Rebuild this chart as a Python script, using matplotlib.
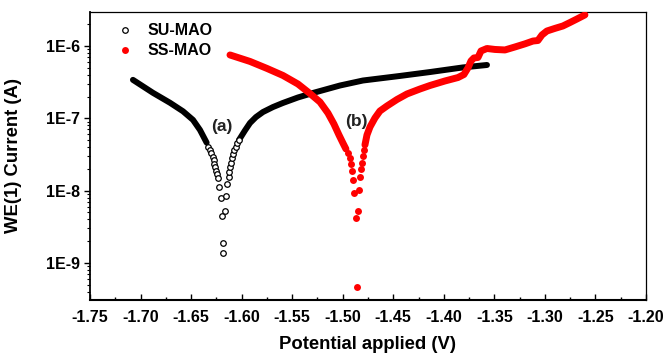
import matplotlib
matplotlib.use("Agg")
import matplotlib.pyplot as plt
from matplotlib.ticker import FixedLocator, FuncFormatter, LogLocator, NullFormatter
import numpy as np

# ---------------- data ----------------
# SU-MAO (open black circles)
su_left_v = [-1.7075, -1.6877, -1.6709, -1.6580, -1.6481, -1.6412, -1.6346]
su_left_i = [3.40e-7, 2.25e-7, 1.64e-7, 1.25e-7, 9.5e-8, 6.9e-8, 4.6e-8]

su_tip_v = [-1.6328, -1.6313, -1.6300, -1.6288, -1.6278, -1.6269, -1.6259, -1.6249,
            -1.6239, -1.6229, -1.6221, -1.6207, -1.6197, -1.6187,
            -1.6184, -1.6165, -1.6155, -1.6142, -1.6128, -1.6120, -1.6112, -1.6105,
            -1.6095, -1.6086, -1.6073, -1.6058, -1.6041, -1.6026]
su_tip_i = [4.07e-8, 3.65e-8, 3.26e-8, 2.92e-8, 2.61e-8, 2.33e-8, 2.09e-8, 1.87e-8,
            1.67e-8, 1.48e-8, 1.11e-8, 7.98e-9, 4.50e-9, 1.37e-9,
            1.90e-9, 5.27e-9, 8.41e-9, 1.22e-8, 1.56e-8, 1.81e-8, 2.09e-8, 2.41e-8,
            2.78e-8, 3.21e-8, 3.65e-8, 4.07e-8, 4.55e-8, 5.01e-8]

su_right_v = [-1.6026, -1.5967, -1.5917, -1.5858, -1.5789, -1.5690, -1.5591, -1.5443,
              -1.5294, -1.5027, -1.4800, -1.4434, -1.4137, -1.3811, -1.3573]
su_right_i = [5.01e-8, 6.78e-8, 8.61e-8, 1.04e-7, 1.22e-7, 1.43e-7, 1.63e-7, 1.94e-7,
              2.24e-7, 2.84e-7, 3.33e-7, 3.85e-7, 4.36e-7, 5.05e-7, 5.46e-7]

# SS-MAO (filled red dots)
ss_left_v = [-1.6115, -1.5917, -1.5749, -1.5591, -1.5443, -1.5324, -1.5225, -1.5146,
             -1.5087, -1.5037, -1.4998, -1.4968]
ss_left_i = [7.51e-7, 6.11e-7, 4.89e-7, 3.91e-7, 2.98e-7, 2.20e-7, 1.68e-7, 1.18e-7,
             8.34e-8, 5.88e-8, 4.55e-8, 3.76e-8]

ss_tip_v = [-1.4948, -1.4928, -1.4916, -1.4905, -1.4896, -1.4886, -1.4872, -1.4862,
            -1.4852, -1.4839, -1.4829, -1.4822, -1.4807, -1.4797, -1.4788]
ss_tip_i = [3.26e-8, 2.80e-8, 2.30e-8, 1.87e-8, 1.40e-8, 9.18e-9, 4.22e-9, 4.69e-10,
            5.22e-9, 1.02e-8, 1.53e-8, 1.97e-8, 2.43e-8, 3.01e-8, 3.65e-8]

ss_right_v = [-1.4780, -1.4760, -1.4730, -1.4681, -1.4632, -1.4562, -1.4463, -1.4364,
              -1.4236, -1.4137, -1.3989, -1.3860, -1.3801, -1.3761, -1.3731, -1.3702,
              -1.3662, -1.3632, -1.3573, -1.3494, -1.3395, -1.3296, -1.3197, -1.3118,
              -1.3069, -1.3029, -1.2980, -1.2901, -1.2822, -1.2752, -1.2683, -1.2604]
ss_right_i = [4.28e-8, 5.88e-8, 7.59e-8, 1.01e-7, 1.26e-7, 1.48e-7, 1.82e-7, 2.17e-7,
              2.54e-7, 2.84e-7, 3.28e-7, 3.66e-7, 4.03e-7, 4.97e-7, 6.21e-7, 6.83e-7,
              6.93e-7, 8.53e-7, 9.23e-7, 8.95e-7, 8.81e-7, 9.69e-7, 1.07e-6, 1.17e-6,
              1.19e-6, 1.42e-6, 1.61e-6, 1.75e-6, 1.89e-6, 2.11e-6, 2.36e-6, 2.69e-6]

x_ticks = [-1.75, -1.70, -1.65, -1.60, -1.55, -1.50, -1.45, -1.40, -1.35, -1.30, -1.25, -1.20]
y_ticks = [1e-9, 1e-8, 1e-7, 1e-6]
series_names = ["SU-MAO", "SS-MAO"]
annotations = [("(a)", -1.6194, 7.8e-8), ("(b)", -1.4864, 9.0e-8)]

# ---------------- plot ----------------
plt.rcParams['font.family'] = ['Liberation Sans', 'DejaVu Sans']
plt.rcParams['font.weight'] = 'bold'

fig = plt.figure(figsize=(6.67, 3.56), dpi=100)
ax = fig.add_axes([0.1349, 0.1573, 0.8336, 0.8090])
ax.set_yscale('log')

black_lw = 4.3
red_lw = 5.0

# SU-MAO
ax.plot(su_left_v, su_left_i, '-', color='black', lw=black_lw, solid_capstyle='round',
        solid_joinstyle='round', zorder=2)
ax.plot(su_right_v, su_right_i, '-', color='black', lw=black_lw, solid_capstyle='round',
        solid_joinstyle='round', zorder=2)
h_su, = ax.plot(su_tip_v, su_tip_i, 'o', ms=4.0, mfc='white', mec='black', mew=0.9,
                ls='none', zorder=3, label=series_names[0])

# SS-MAO
ax.plot(ss_left_v, ss_left_i, '-', color='#ff0000', lw=red_lw, solid_capstyle='round',
        solid_joinstyle='round', zorder=4)
ax.plot(ss_right_v, ss_right_i, '-', color='#ff0000', lw=red_lw, solid_capstyle='round',
        solid_joinstyle='round', zorder=4)
h_ss, = ax.plot(ss_tip_v, ss_tip_i, 'o', ms=5.0, mfc='#ff0000', mec='#ff0000', mew=0,
                ls='none', zorder=5, label=series_names[1])

for txt, xv, yv in annotations:
    ax.text(xv, yv, txt, ha='center', va='center', fontsize=12.5, fontweight='bold',
            color='#222222')

ax.set_xlim(-1.75, -1.20)
ax.set_ylim(3.07e-10, 2.95e-6)

ax.xaxis.set_major_locator(FixedLocator(x_ticks))
ax.xaxis.set_minor_locator(FixedLocator([t + 0.025 for t in x_ticks[:-1]]))
ax.xaxis.set_major_formatter(FuncFormatter(lambda v, p: f"{v:.2f}"))
ax.yaxis.set_major_locator(FixedLocator(y_ticks))
ax.yaxis.set_minor_locator(LogLocator(base=10, subs=np.arange(2, 10), numticks=20))
ax.yaxis.set_minor_formatter(NullFormatter())
ax.yaxis.set_major_formatter(FuncFormatter(lambda v, p: f"1E{int(round(np.log10(v)))}"))

ax.tick_params(axis='x', which='major', direction='in', length=4.5, width=1.0,
               labelsize=11.5, pad=7, top=False)
ax.tick_params(axis='x', which='minor', direction='in', length=2.5, width=1.0, top=False)
ax.tick_params(axis='y', which='major', direction='out', length=4, width=1.0,
               labelsize=11.5, pad=3, right=False)
ax.tick_params(axis='y', which='minor', direction='out', length=2.2, width=0.8, right=False)
for lab in ax.get_xticklabels() + ax.get_yticklabels():
    lab.set_fontweight('bold')

ax.spines['bottom'].set_linewidth(1.5)
ax.spines['left'].set_linewidth(1.3)
ax.spines['top'].set_linewidth(0.9)
ax.spines['right'].set_linewidth(0.9)

ax.set_xlabel("Potential applied (V)", fontsize=13.3, fontweight='bold')
ax.set_ylabel("WE(1) Current (A)", fontsize=13.3, fontweight='bold')
ax.xaxis.set_label_coords(0.5, -0.125)
ax.yaxis.set_label_coords(-0.137, 0.5)
ax.yaxis.label.set_va('center')

leg = ax.legend(handles=[h_su, h_ss], loc='upper left', frameon=False,
                bbox_to_anchor=(0.02, 1.01), fontsize=11.5, handlelength=1.2,
                handletextpad=0.8, labelspacing=0.3, markerscale=1.0)
for t in leg.get_texts():
    t.set_fontweight('bold')

fig.savefig("out.png", dpi=100)
